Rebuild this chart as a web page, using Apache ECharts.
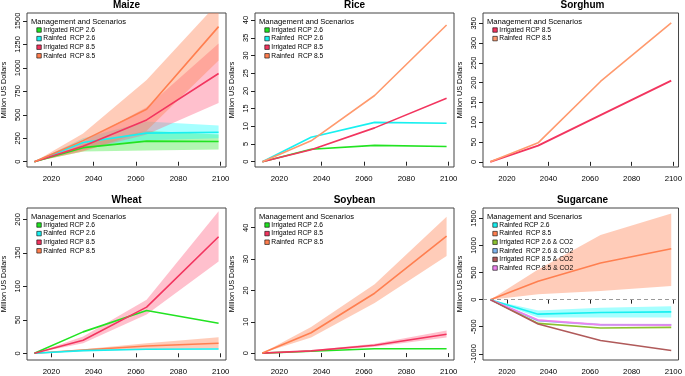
<!DOCTYPE html>
<html><head><meta charset="utf-8">
<script src="https://cdn.jsdelivr.net/npm/echarts@6/dist/echarts.min.js"></script>
<style>html,body{margin:0;padding:0;background:#fff}#c{width:685px;height:376px}</style>
</head><body><div id="c"></div>
<script>
// ---------- DATA ----------
const years = [2012, 2035, 2065, 2099];
const xTicks = [2020, 2040, 2060, 2080, 2100];

// Maize
const maizeIrr26 = [0, 150, 220, 215];
const maizeIrr26Lo = [0, 110, 120, 130];
const maizeIrr26Hi = [0, 185, 330, 290];
const maizeRf26 = [0, 205, 305, 315];
const maizeRf26Lo = [0, 160, 230, 250];
const maizeRf26Hi = [0, 250, 430, 385];
const maizeIrr85 = [0, 165, 446, 940];
const maizeIrr85Lo = [0, 120, 290, 625];
const maizeIrr85Hi = [0, 210, 580, 1260];
const maizeRf85 = [0, 225, 560, 1440];
const maizeRf85Lo = [0, 110, 330, 1080];
const maizeRf85Hi = [0, 300, 870, 1700];
const maizeTicks = [0, 250, 500, 750, 1000, 1250, 1500];

// Rice
const riceIrr26 = [0, 3.5, 4.6, 4.3];
const riceRf26 = [0, 6.9, 11.1, 10.85];
const riceIrr85 = [0, 3.4, 9.55, 17.9];
const riceRf85 = [0, 5.9, 18.7, 38.6];
const riceTicks = [0, 5, 10, 15, 20, 25, 30, 35, 40];

// Sorghum
const sorghumIrr85 = [0, 41, 118, 205];
const sorghumRf85 = [0, 48, 203, 351];
const sorghumTicks = [0, 50, 100, 150, 200, 250, 300, 350];

// Wheat
const wheatIrr26 = [0, 32, 64, 45];
const wheatRf26 = [0, 4, 6, 6.5];
const wheatIrr85 = [0, 19.6, 69, 174];
const wheatIrr85Lo = [0, 15, 58, 137];
const wheatIrr85Hi = [0, 25, 80, 212];
const wheatRf85 = [0, 5, 11, 15];
const wheatRf85Lo = [0, 3, 6, 7];
const wheatRf85Hi = [0, 6, 15, 24];
const wheatTicks = [0, 50, 100, 150, 200];

// Soybean
const soyIrr26 = [0, 0.6, 1.4, 1.4];
const soyIrr85 = [0, 0.7, 2.5, 6.0];
const soyIrr85Lo = [0, 0.5, 2.0, 5.0];
const soyIrr85Hi = [0, 0.9, 3.0, 7.2];
const soyRf85 = [0, 6.5, 19.1, 37.3];
const soyRf85Lo = [0, 5.0, 16.0, 31.0];
const soyRf85Hi = [0, 8.3, 22.0, 43.5];
const soyTicks = [0, 10, 20, 30, 40];

// Sugarcane
const sugRf26 = [0, -268, -238, -226];
const sugRf26Lo = [0, -330, -330, -330];
const sugRf26Hi = [0, -200, -150, -120];
const sugRf85 = [0, 341, 677, 939];
const sugRf85Lo = [0, 98, 159, 250];
const sugRf85Hi = [0, 555, 1195, 1591];
const sugIrr26Co2 = [0, -439, -524, -512];
const sugRf26Co2 = [0, -390, -463, -463];
const sugIrr85Co2 = [0, -451, -756, -939];
const sugRf85Co2 = [0, -378, -463, -470];
const sugRf85Co2Lo = [0, -400, -490, -490];
const sugRf85Co2Hi = [0, -360, -440, -445];
const sugTicks = [-1000, -500, 0, 500, 1000, 1500];

// ---------- STYLE ----------
const FONT = 'Liberation Sans, Arial, Helvetica, sans-serif';
const COL = {
  g: '#22E322', c: '#18F0F0', r: '#F2355F', o: '#FF7F50', oL: '#FF9A6E',
  olive: '#8CC231', lblue: '#7DB5EE', brown: '#B05A5A', violet: '#EE82EE'
};
const BAND = {
  g: 'rgba(0,225,0,0.30)', c: 'rgba(0,255,255,0.35)',
  r: 'rgba(255,105,135,0.42)', o: 'rgba(255,127,80,0.40)', v: 'rgba(238,130,238,0.35)'
};
const colLeft = [27, 255, 483], rowTop = [13, 208], W = 199, H = 154;

const panels = [
  {title: 'Maize', ymin: -56, ymax: 1585, ticks: maizeTicks},
  {title: 'Rice', ymin: -1.5, ymax: 42, ticks: riceTicks},
  {title: 'Sorghum', ymin: -13, ymax: 376, ticks: sorghumTicks},
  {title: 'Wheat', ymin: -10, ymax: 217, ticks: wheatTicks},
  {title: 'Soybean', ymin: -2.2, ymax: 46.3, ticks: soyTicks},
  {title: 'Sugarcane', ymin: -1115, ymax: 1693, ticks: sugTicks}
];
const plain = v => String(v);

const grid = [], xAxis = [], yAxis = [], titles = [], legends = [], series = [];
panels.forEach((p, i) => {
  const col = i % 3, row = Math.floor(i / 3);
  const L = colLeft[col], T = rowTop[row];
  grid.push({left: L, top: T, width: W, height: H, show: true, borderColor: '#444', borderWidth: 1, backgroundColor: 'transparent'});
  xAxis.push({type: 'value', gridIndex: i, min: 2008.5, max: 2102.5,
    axisLine: {show: false}, splitLine: {show: false},
    axisTick: {show: true, length: 4, customValues: xTicks, lineStyle: {color: '#222'}},
    axisLabel: {customValues: xTicks, formatter: plain, fontSize: 7.8, color: '#000', fontFamily: FONT, margin: 8}
  });
  yAxis.push({type: 'value', gridIndex: i, min: p.ymin, max: p.ymax,
    name: 'Million US Dollars', nameLocation: 'middle', nameGap: 19, nameRotate: 90,
    nameTextStyle: {fontSize: 7.2, color: '#000', fontFamily: FONT},
    axisLine: {show: false}, splitLine: {show: false},
    axisTick: {show: true, length: 4, customValues: p.ticks, lineStyle: {color: '#222'}},
    axisLabel: {customValues: p.ticks, formatter: plain, rotate: 90, fontSize: 7.5, color: '#000', fontFamily: FONT, margin: 5}
  });
  titles.push({text: p.title, left: L + W / 2, top: T - 13, textAlign: 'center', padding: 0,
    textStyle: {fontSize: 10, fontWeight: 'bold', color: '#000', fontFamily: FONT}});
  titles.push({text: 'Management and Scenarios', left: L + 4, top: T + 5, padding: 0,
    textStyle: {fontSize: 7.6, fontWeight: 'normal', color: '#000', fontFamily: FONT}});
});

function lineS(g, name, vals, color, w) {
  return {type: 'line', name: name, xAxisIndex: g, yAxisIndex: g,
    data: years.map((y, k) => [y, vals[k]]), symbol: 'none', silent: true, z: 3,
    lineStyle: {color: color, width: w || 1.6}, itemStyle: {color: color}};
}
function bandS(g, lo, hi, fill) {
  return {type: 'custom', name: 'band', xAxisIndex: g, yAxisIndex: g, clip: true, silent: true, z: 1,
    data: [[years[0], lo[0]]],
    renderItem: function (params, api) {
      const pts = [];
      for (let k = 0; k < years.length; k++) pts.push(api.coord([years[k], hi[k]]));
      for (let k = years.length - 1; k >= 0; k--) pts.push(api.coord([years[k], lo[k]]));
      return {type: 'polygon', shape: {points: pts}, style: {fill: fill, stroke: null}};
    }};
}
function legendS(i, items) {
  const col = i % 3, row = Math.floor(i / 3);
  return {left: colLeft[col] + 9.5, top: rowTop[row] + 13.5, orient: 'vertical', icon: 'rect',
    itemWidth: 4.5, itemHeight: 4.5, itemGap: 1.6, padding: 0, selectedMode: false,
    itemStyle: {borderColor: '#000', borderWidth: 0.6},
    textStyle: {fontSize: 6.7, color: '#000', fontFamily: FONT, lineHeight: 5, padding: [0, 0, 0, -3]},
    data: items.map(it => ({name: it[0], itemStyle: {color: it[1]}}))};
}

// Maize (0)
series.push(bandS(0, maizeIrr26Lo, maizeIrr26Hi, BAND.g));
series.push(bandS(0, maizeRf26Lo, maizeRf26Hi, BAND.c));
series.push(bandS(0, maizeIrr85Lo, maizeIrr85Hi, BAND.r));
series.push(bandS(0, maizeRf85Lo, maizeRf85Hi, BAND.o));
series.push(lineS(0, 'Irrigated RCP 2.6', maizeIrr26, COL.g));
series.push(lineS(0, 'Rainfed  RCP 2.6', maizeRf26, COL.c));
series.push(lineS(0, 'Irrigated RCP 8.5', maizeIrr85, COL.r));
series.push(lineS(0, 'Rainfed  RCP 8.5', maizeRf85, COL.o));
legends.push(legendS(0, [['Irrigated RCP 2.6', COL.g], ['Rainfed  RCP 2.6', COL.c], ['Irrigated RCP 8.5', COL.r], ['Rainfed  RCP 8.5', COL.o]]));

// Rice (1)
series.push(lineS(1, 'Irrigated RCP 2.6', riceIrr26, COL.g));
series.push(lineS(1, 'Rainfed  RCP 2.6', riceRf26, COL.c));
series.push(lineS(1, 'Irrigated RCP 8.5', riceIrr85, COL.r));
series.push(lineS(1, 'Rainfed  RCP 8.5', riceRf85, COL.oL));
legends.push(legendS(1, [['Irrigated RCP 2.6', COL.g], ['Rainfed  RCP 2.6', COL.c], ['Irrigated RCP 8.5', COL.r], ['Rainfed  RCP 8.5', COL.o]]));

// Sorghum (2)
series.push(lineS(2, 'Irrigated RCP 8.5', sorghumIrr85, COL.r, 1.9));
series.push(lineS(2, 'Rainfed  RCP 8.5', sorghumRf85, COL.oL, 1.6));
legends.push(legendS(2, [['Irrigated RCP 8.5', COL.r], ['Rainfed  RCP 8.5', COL.oL]]));

// Wheat (3)
series.push(bandS(3, wheatIrr85Lo, wheatIrr85Hi, BAND.r));
series.push(bandS(3, wheatRf85Lo, wheatRf85Hi, BAND.o));
series.push(lineS(3, 'Rainfed  RCP 8.5', wheatRf85, COL.o));
series.push(lineS(3, 'Rainfed  RCP 2.6', wheatRf26, COL.c));
series.push(lineS(3, 'Irrigated RCP 2.6', wheatIrr26, COL.g));
series.push(lineS(3, 'Irrigated RCP 8.5', wheatIrr85, COL.r));
legends.push(legendS(3, [['Irrigated RCP 2.6', COL.g], ['Rainfed  RCP 2.6', COL.c], ['Irrigated RCP 8.5', COL.r], ['Rainfed  RCP 8.5', COL.o]]));

// Soybean (4)
series.push(bandS(4, soyIrr85Lo, soyIrr85Hi, BAND.r));
series.push(bandS(4, soyRf85Lo, soyRf85Hi, BAND.o));
series.push(lineS(4, 'Irrigated RCP 2.6', soyIrr26, COL.g));
series.push(lineS(4, 'Irrigated RCP 8.5', soyIrr85, COL.r));
series.push(lineS(4, 'Rainfed  RCP 8.5', soyRf85, COL.o));
legends.push(legendS(4, [['Irrigated RCP 2.6', COL.g], ['Irrigated RCP 8.5', COL.r], ['Rainfed  RCP 8.5', COL.o]]));

// Sugarcane (5)
series.push(bandS(5, sugRf85Lo, sugRf85Hi, BAND.o));
series.push(bandS(5, sugRf26Lo, sugRf26Hi, BAND.c));
series.push(bandS(5, sugRf85Co2Lo, sugRf85Co2Hi, BAND.v));
const sugRf26Line = lineS(5, 'Rainfed RCP 2.6', sugRf26, COL.c);
sugRf26Line.markLine = {silent: true, symbol: 'none', label: {show: false},
  lineStyle: {color: '#999', type: [4, 3], width: 1}, data: [{yAxis: 0}]};
series.push(sugRf26Line);
series.push(lineS(5, 'Rainfed  RCP 8.5 ', sugRf85, COL.o));
series.push(lineS(5, 'Rainfed  RCP 2.6 & CO2', sugRf26Co2, COL.lblue));
series.push(lineS(5, 'Irrigated RCP 2.6 & CO2', sugIrr26Co2, COL.olive));
series.push(lineS(5, 'Rainfed  RCP 8.5 & CO2', sugRf85Co2, COL.violet));
series.push(lineS(5, 'Irrigated RCP 8.5 & CO2', sugIrr85Co2, COL.brown));
legends.push(legendS(5, [['Rainfed RCP 2.6', COL.c], ['Rainfed  RCP 8.5 ', COL.o], ['Irrigated RCP 2.6 & CO2', COL.olive],
  ['Rainfed  RCP 2.6 & CO2', COL.lblue], ['Irrigated RCP 8.5 & CO2', COL.brown], ['Rainfed  RCP 8.5 & CO2', COL.violet]]));

const chart = echarts.init(document.getElementById('c'), null, {renderer: 'canvas'});
chart.setOption({
  animation: false, backgroundColor: '#fff',
  title: titles, legend: legends, grid: grid, xAxis: xAxis, yAxis: yAxis, series: series
});
</script></body></html>
